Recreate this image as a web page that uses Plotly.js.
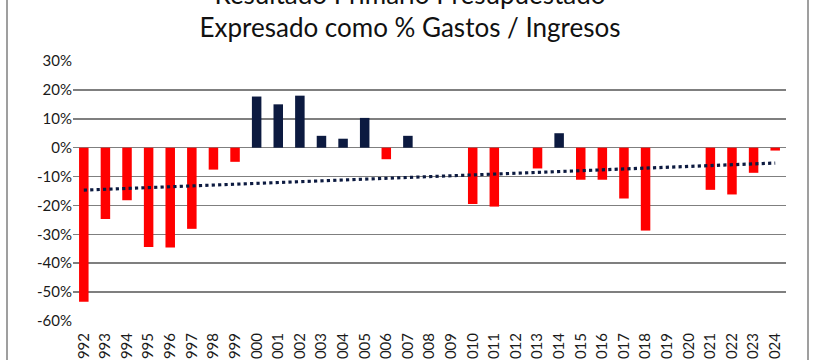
<!DOCTYPE html>
<html>
<head>
<meta charset="utf-8">
<script src="https://cdn.plot.ly/plotly-3.0.1.min.js"></script>
<style>html,body{margin:0;padding:0;background:#fff;}#chart{width:820px;height:360px;}</style>
</head>
<body>
<div id="chart"></div>
<script>
const years = ["1992","1993","1994","1995","1996","1997","1998","1999","2000","2001","2002","2003","2004","2005","2006","2007","2008","2009","2010","2011","2012","2013","2014","2015","2016","2017","2018","2019","2020","2021","2022","2023","2024"];
const resultado = [-53.3,-24.7,-18.2,-34.4,-34.6,-28.1,-7.6,-4.9,17.7,15.0,18.0,4.1,3.1,10.3,-4.0,4.1,null,null,-19.5,-20.4,null,-7.2,5.0,-11.1,-11.1,-17.6,-28.7,null,null,-14.6,-16.2,-8.7,-1.0];
const yTicks = [30,20,10,0,-10,-20,-30,-40,-50,-60];
const yTickLabels = yTicks.map(v => v + "%");

// Linear trend (least squares over the years that have a value)
const pts = [];
resultado.forEach((v,i) => { if (v !== null) pts.push([i, v]); });
const n = pts.length;
const mx = pts.reduce((s,p)=>s+p[0],0)/n, my = pts.reduce((s,p)=>s+p[1],0)/n;
const slope = pts.reduce((s,p)=>s+(p[0]-mx)*(p[1]-my),0)/pts.reduce((s,p)=>s+(p[0]-mx)*(p[0]-mx),0);
const trend = years.map((_,i) => my + slope*(i-mx));

const barColors = resultado.map(v => (v !== null && v >= 0) ? "#0c1a40" : "#ff0000");

const data = [
  {type:"bar", x: years, y: resultado, marker:{color: barColors}, hoverinfo:"x+y"},
  {type:"scatter", mode:"lines", x: years, y: trend, line:{color:"#0c1a40", width:3.2, dash:"dot"}, hoverinfo:"skip"}
];

const layout = {
  width: 820, height: 360,
  margin: {l:73, r:34, t:61, b:39},
  paper_bgcolor:"#ffffff", plot_bgcolor:"#ffffff",
  showlegend:false,
  bargap: 0.56,
  font: {family:"Lato, 'Open Sans', sans-serif", color:"#1a1a1a"},
  title: {
    text: "Resultado Primario Presupuestado<br>Expresado como % Gastos / Ingresos",
    font: {family:"Lato, 'Open Sans', sans-serif", size:26, color:"#111111"},
    x: 0.5, xanchor:"center", xref:"container",
    y: 0.99, yanchor:"bottom", yref:"container"
  },
  xaxis: {
    type:"category", tickangle:-90, showgrid:false, showline:false, zeroline:false,
    ticks:"", tickfont:{size:15, color:"#1a1a1a"}, ticklabelstandoff:8, automargin:false
  },
  yaxis: {
    range:[-60,30], tickvals: yTicks, ticktext: yTickLabels,
    showgrid:true, gridcolor:"#7f7f7f", gridwidth:1.6,
    zeroline:true, zerolinecolor:"#7f7f7f", zerolinewidth:1.6,
    showline:false, ticks:"", ticklen:0, tickfont:{size:15, color:"#1a1a1a"}, automargin:false
  },
  shapes: [
    {type:"rect", xref:"paper", yref:"paper", x0:(7-73)/713, x1:(808-73)/713, y0:-0.5, y1:1.5,
     line:{color:"#808080", width:1.5}, fillcolor:"rgba(0,0,0,0)", layer:"below"}
  ]
};

Plotly.newPlot("chart", data, layout, {staticPlot:true, displayModeBar:false});
</script>
</body>
</html>
